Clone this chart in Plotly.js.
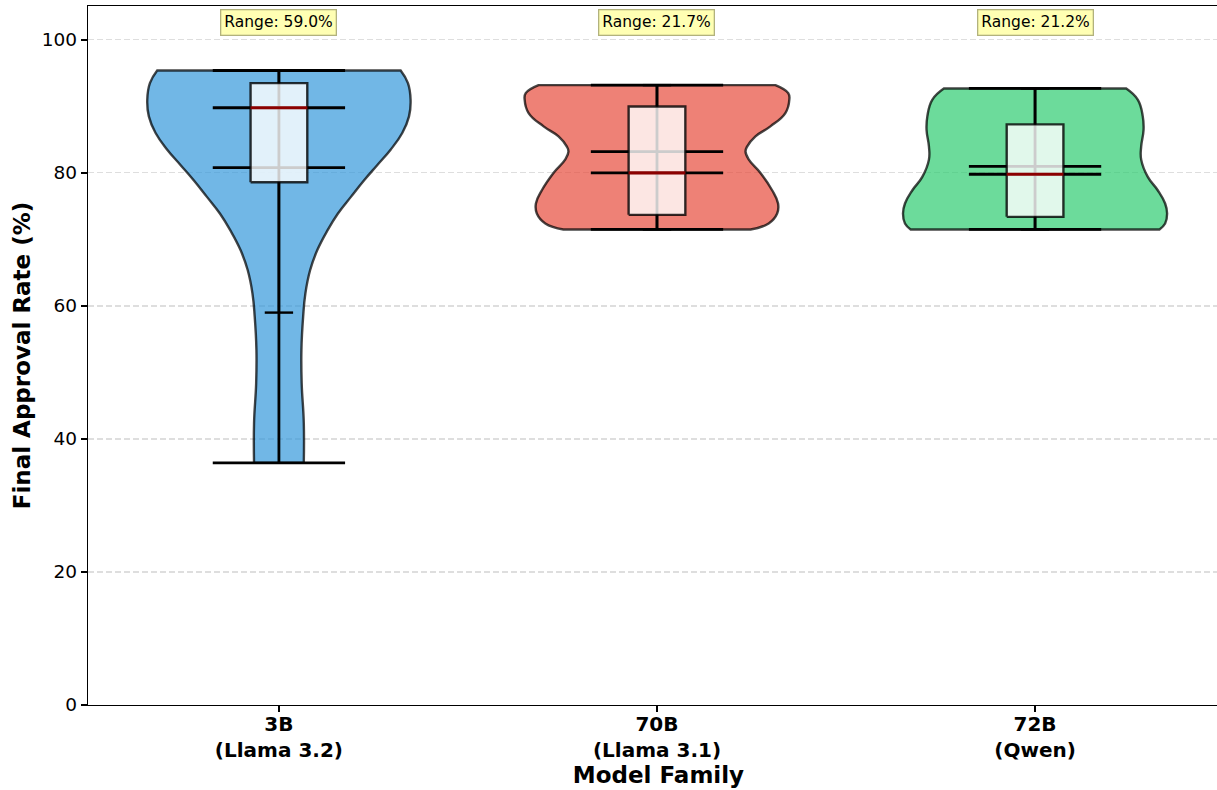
<!DOCTYPE html>
<html><head><meta charset="utf-8">
<script src="https://cdn.plot.ly/plotly-3.0.1.min.js"></script>
<style>html,body{margin:0;padding:0;background:#fff;overflow:hidden;width:1217px;height:790px}#chart{width:1229px;height:790px}</style>
</head><body><div id="chart"></div>
<script>
// ---- data ----
const categories = ['3B<br>(Llama 3.2)', '70B<br>(Llama 3.1)', '72B<br>(Qwen)'];
const positions = [1, 2, 3];
const colors = ['rgba(52,152,219,0.7)', 'rgba(231,76,60,0.7)', 'rgba(46,204,113,0.7)'];
const minVals = [36.4, 71.5, 71.5];
const maxVals = [95.4, 93.2, 92.7];
const meanVals = [80.8, 83.2, 81.0];
const medianVals = [89.8, 80.0, 79.8];
const q1Vals = [78.6, 73.7, 73.4];
const q3Vals = [93.5, 90.0, 87.3];
const whiskerLow = [59.0, 71.5, 71.5];
const whiskerHigh = [95.4, 93.2, 92.7];

// violin density profiles (value, relative half-width)
const densY_3B = [36.4, 42.4, 48.4, 53.4, 58.4, 61.9, 65.4, 68.4, 71.4, 73.9, 76.4, 78.9, 81.2, 83.5, 86.0, 88.5, 91.0, 93.5, 95.4];
const densW_3B = [0.188, 0.188, 0.172, 0.17, 0.183, 0.2, 0.236, 0.29, 0.368, 0.446, 0.544, 0.644, 0.744, 0.844, 0.932, 0.983, 0.995, 0.975, 0.92];
const densY_70B = [71.5, 72.4, 73.9, 75.4, 77.4, 80.0, 82.0, 83.2, 84.0, 85.5, 87.0, 89.0, 91.0, 92.0, 93.2];
const densW_70B = [0.707, 0.844, 0.908, 0.915, 0.87, 0.782, 0.694, 0.669, 0.682, 0.744, 0.857, 0.97, 1.0, 0.992, 0.895];
const densY_72B = [71.5, 72.4, 73.9, 75.4, 77.4, 79.4, 82.0, 84.0, 86.5, 88.5, 91.0, 92.7];
const densW_72B = [0.94, 0.983, 0.998, 0.983, 0.927, 0.852, 0.802, 0.802, 0.82, 0.814, 0.777, 0.689];

const yTicks = [0, 20, 40, 60, 80, 100];

// ---- styling constants ----
const VIOLIN_HALF = 0.35, LINE_HALF = 0.175, BOX_HALF = 0.075, CAP_HALF = 0.0375;
const densY = [densY_3B, densY_70B, densY_72B];
const densW = [densW_3B, densW_70B, densW_72B];

const traces = [];
// violin bodies
positions.forEach((p, i) => {
  const ys = densY[i], ws = densW[i], n = ys.length;
  const X = [], Y = [];
  for (let j = n - 1; j >= 0; j--) {
    const px = p - VIOLIN_HALF * ws[j];
    X.push(px); Y.push(ys[j]);
    if (j === n - 1 || j === 0) { X.push(px); Y.push(ys[j]); }
  }
  for (let j = 0; j < n; j++) {
    const px = p + VIOLIN_HALF * ws[j];
    X.push(px); Y.push(ys[j]);
    if (j === n - 1 || j === 0) { X.push(px); Y.push(ys[j]); }
  }
  X.push(X[0]); Y.push(Y[0]);
  traces.push({type: 'scatter', mode: 'lines', x: X, y: Y, fill: 'toself',
    fillcolor: colors[i], line: {color: 'rgba(0,0,0,0.72)', width: 2.4, shape: 'spline', smoothing: 1.25, simplify: false},
    hoverinfo: 'skip'});
});
// violin lines: center bar, extrema, mean, median
positions.forEach((p, i) => {
  const X = [p, p, null], Y = [minVals[i], maxVals[i], null];
  [minVals[i], maxVals[i], meanVals[i], medianVals[i]].forEach(v => {
    X.push(p - LINE_HALF, p + LINE_HALF, null); Y.push(v, v, null);
  });
  traces.push({type: 'scatter', mode: 'lines', x: X, y: Y, line: {color: '#000', width: 2.8}, hoverinfo: 'skip'});
});
// boxes
positions.forEach((p, i) => {
  traces.push({type: 'scatter', mode: 'lines',
    x: [p - BOX_HALF, p + BOX_HALF, p + BOX_HALF, p - BOX_HALF, p - BOX_HALF],
    y: [q1Vals[i], q1Vals[i], q3Vals[i], q3Vals[i], q1Vals[i]],
    fill: 'toself', fillcolor: 'rgba(255,255,255,0.8)', line: {color: 'rgba(0,0,0,0.8)', width: 2.4}, hoverinfo: 'skip'});
  traces.push({type: 'scatter', mode: 'lines',
    x: [p, p, null, p, p, null, p - CAP_HALF, p + CAP_HALF, null, p - CAP_HALF, p + CAP_HALF],
    y: [q1Vals[i], whiskerLow[i], null, q3Vals[i], whiskerHigh[i], null, whiskerLow[i], whiskerLow[i], null, whiskerHigh[i], whiskerHigh[i]],
    line: {color: '#000', width: 2.4}, hoverinfo: 'skip'});
  traces.push({type: 'scatter', mode: 'lines',
    x: [p - BOX_HALF, p + BOX_HALF], y: [medianVals[i], medianVals[i]],
    line: {color: '#8b0000', width: 3.2}, hoverinfo: 'skip'});
});

const annotations = positions.map((p, i) => ({
  x: p, y: 102.65, xref: 'x', yref: 'y', showarrow: false,
  text: 'Range: ' + (maxVals[i] - minVals[i]).toFixed(1) + '%',
  font: {family: 'DejaVu Sans', size: 15.5, color: '#000'},
  bgcolor: '#ffffb3', bordercolor: '#b2b27d', borderwidth: 1.3, borderpad: 3
}));

const layout = {
  width: 1229, height: 790,
  margin: {l: 88, r: 0, t: 6, b: 85, pad: 0},
  paper_bgcolor: '#fff', plot_bgcolor: '#fff',
  showlegend: false,
  font: {family: 'DejaVu Sans', color: '#000'},
  xaxis: {
    range: [0.495, 3.513], tickvals: positions, ticktext: categories,
    tickfont: {family: 'DejaVu Sans', size: 20, weight: 'bold', color: '#000'},
    ticklabelstandoff: -5,
    showgrid: false, zeroline: false, showline: true, linecolor: '#000', linewidth: 1.3, mirror: true,
    ticks: 'outside', ticklen: 6, tickwidth: 1.3, tickcolor: '#000',
    title: {text: 'Model Family', font: {family: 'DejaVu Sans', size: 23, weight: 'bold', color: '#000'}, standoff: 4}
  },
  yaxis: {
    range: [0, 105.1], tickvals: yTicks, ticktext: yTicks.map(String),
    tickfont: {family: 'DejaVu Sans', size: 18.5, color: '#000'},
    showgrid: true, gridcolor: '#dedede', gridwidth: 1.1, griddash: '6px,3px',
    zeroline: false, showline: true, linecolor: '#000', linewidth: 1.3,
    ticks: 'outside', ticklen: 6, tickwidth: 1.3, tickcolor: '#000',
    title: {text: 'Final Approval Rate (%)', font: {family: 'DejaVu Sans', size: 23, weight: 'bold', color: '#000'}, standoff: 4}
  },
  annotations: annotations
};

Plotly.newPlot('chart', traces, layout, {displayModeBar: false, staticPlot: true});
</script>
</body></html>
